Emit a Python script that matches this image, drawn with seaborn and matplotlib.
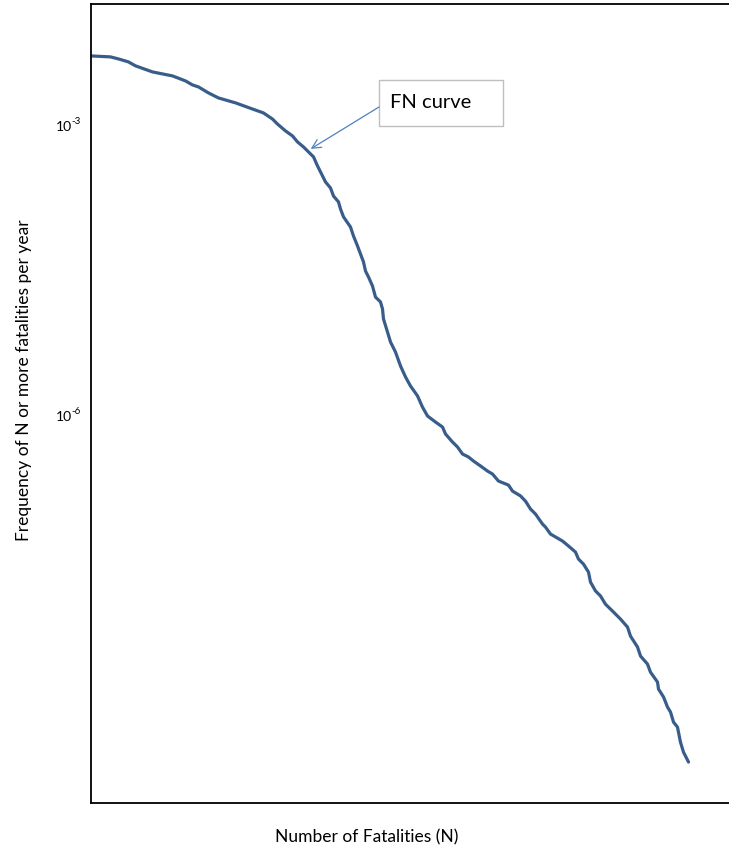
import numpy as np
import pandas as pd
import matplotlib
matplotlib.use("Agg")
import matplotlib.pyplot as plt
from matplotlib.patches import Rectangle
import seaborn as sns

# ---- data ----
fatalities = [0.0, 3.33, 4.67, 6.33, 7.5, 10.33, 13.67, 15.83, 17.0, 18.0,
              19.67, 21.33, 24.17, 27.0, 28.83, 30.33, 31.17, 32.5, 33.67, 34.5,
              35.5, 36.33, 37.17, 37.83, 38.67, 39.17, 40.0, 40.5, 41.33, 41.67,
              42.17, 43.33, 43.83, 44.5, 45.0, 45.5, 45.83, 46.33, 47.0, 47.5,
              48.33, 48.67, 48.83, 49.5, 50.0, 50.83, 51.67, 52.5, 53.33, 54.5,
              55.33, 56.17, 57.5, 58.67, 59.17, 60.33, 61.17, 62.0, 63.0, 63.83,
              65.0, 66.17, 67.0, 68.0, 69.67, 70.33, 71.67, 72.5, 73.33, 74.17,
              75.33, 75.83, 76.67, 78.67, 79.67, 80.83, 81.33, 82.17, 83.0, 83.33,
              84.17, 85.0, 85.83, 87.17, 88.33, 89.5, 90.0, 91.17, 91.67, 92.83,
              93.33, 94.5, 94.67, 95.5, 96.17, 96.67, 97.17, 97.83, 98.33, 98.83,
              99.67]
frequency = [5.17e-3, 5.05e-3, 4.81e-3, 4.48e-3, 4.08e-3, 3.53e-3, 3.21e-3, 2.85e-3,
             2.59e-3, 2.47e-3, 2.14e-3, 1.90e-3, 1.69e-3, 1.46e-3, 1.33e-3, 1.15e-3,
             1.02e-3, 8.67e-4, 7.69e-4, 6.67e-4, 5.92e-4, 5.26e-4, 4.67e-4, 3.77e-4,
             2.97e-4, 2.57e-4, 2.23e-4, 1.84e-4, 1.60e-4, 1.35e-4, 1.12e-4, 8.81e-5,
             7.11e-5, 5.61e-5, 4.63e-5, 3.83e-5, 3.09e-5, 2.68e-5, 2.16e-5, 1.66e-5,
             1.48e-5, 1.25e-5, 9.86e-6, 7.23e-6, 5.70e-6, 4.49e-6, 3.22e-6, 2.48e-6,
             2.00e-6, 1.58e-6, 1.21e-6, 9.79e-7, 8.48e-7, 7.53e-7, 6.38e-7, 5.27e-7,
             4.68e-7, 3.96e-7, 3.69e-7, 3.35e-7, 2.98e-7, 2.64e-7, 2.46e-7, 2.08e-7,
             1.89e-7, 1.64e-7, 1.46e-7, 1.29e-7, 1.07e-7, 9.49e-8, 7.48e-8, 6.96e-8,
             5.89e-8, 4.99e-8, 4.43e-8, 3.84e-8, 3.25e-8, 2.88e-8, 2.38e-8, 1.88e-8,
             1.52e-8, 1.35e-8, 1.11e-8, 9.20e-9, 7.79e-9, 6.44e-9, 5.19e-9, 4.00e-9,
             3.23e-9, 2.67e-9, 2.20e-9, 1.74e-9, 1.47e-9, 1.22e-9, 9.58e-10, 8.51e-10,
             6.70e-10, 5.95e-10, 4.16e-10, 3.28e-10, 2.59e-10]
ytick_values = [1e-3, 1e-6]
ytick_base = ["10", "10"]
ytick_exponents = ["-3", "-6"]
x_label = "Number of Fatalities (N)"
y_label = "Frequency of N or more fatalities per year"
annotation_text = "FN curve"
annotation_point = (36.7, 5.65e-4)

df = pd.DataFrame({"N": fatalities, "freq": frequency})

sns.set_theme(style="white")
plt.rcParams["font.family"] = ["Lato", "DejaVu Sans"]

W, H = 729, 853
fig = plt.figure(figsize=(W / 100, H / 100), dpi=100)
left, right, top, bottom = 90.5, 729, 5, 804
ax = fig.add_axes([left / W, 1 - bottom / H, (right - left) / W, (bottom - top) / H])

sns.lineplot(data=df, x="N", y="freq", ax=ax, color="#385D8A", linewidth=2.3,
             sort=False, estimator=None)

ax.set_yscale("log")
ax.set_xlim(0, (right - left) / 6)
ax.set_ylim(10 ** -10.01, 10 ** -1.75)
ax.set_xticks([])
ax.set_yticks(ytick_values)
ax.set_yticklabels(ytick_base)
ax.yaxis.set_minor_locator(matplotlib.ticker.NullLocator())
ax.tick_params(axis="y", length=0, pad=13.5, labelsize=10, labelcolor="black")
for val, ex in zip(ytick_values, ytick_exponents):
    ax.annotate(ex, xy=(0, val), xycoords=ax.get_yaxis_transform(),
                xytext=(-13.5, 3.5), textcoords="offset points",
                ha="left", va="center", fontsize=7, color="black")

for s in ["left", "bottom", "top"]:
    ax.spines[s].set_visible(True)
    ax.spines[s].set_color("black")
    ax.spines[s].set_linewidth(1.3)
ax.spines["right"].set_visible(False)

ax.set_xlabel(x_label, fontsize=12.5, color="black", va="center")
ax.xaxis.set_label_coords((367 - left) / (right - left), (bottom - 837) / (bottom - top))
ax.set_ylabel(y_label, fontsize=12.5, color="black", va="center")
ax.yaxis.set_label_coords((24 - left) / (right - left), (bottom - 380) / (bottom - top))

# annotation box
bx0, bx1, by0, by1 = 379, 503, 81, 127
ax.add_patch(Rectangle(((bx0 - left) / (right - left), (bottom - by1) / (bottom - top)),
                       (bx1 - bx0) / (right - left), (by1 - by0) / (bottom - top),
                       transform=ax.transAxes, facecolor="white", edgecolor="#BFBFBF",
                       linewidth=1.0, zorder=3))
ax.text((390 - left) / (right - left), (bottom - 102) / (bottom - top), annotation_text,
        transform=ax.transAxes, ha="left", va="center", fontsize=14.5, color="black",
        zorder=4)
ax.annotate("", xy=annotation_point, xycoords="data",
            xytext=((bx0 - left) / (right - left), (bottom - 108) / (bottom - top)),
            textcoords="axes fraction",
            arrowprops=dict(arrowstyle="->", color="#4F81BD", lw=0.9,
                            shrinkA=0, shrinkB=0, mutation_scale=16))

fig.savefig("out.png", dpi=100)
